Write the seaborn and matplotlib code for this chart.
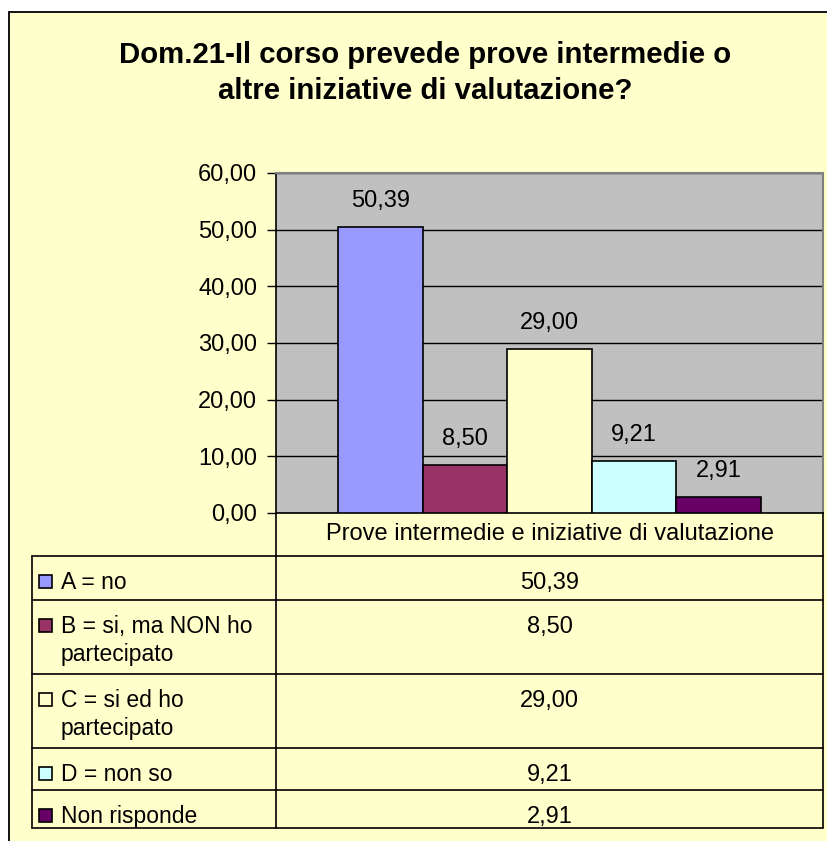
import numpy as np
import pandas as pd
import seaborn as sns
import matplotlib.pyplot as plt
from matplotlib.patches import Rectangle
from matplotlib.lines import Line2D

# dati del grafico
categoria = "Prove intermedie e iniziative di valutazione"
risposte = ["A = no", "B = si, ma NON ho partecipato", "C = si ed ho partecipato",
            "D = non so", "Non risponde"]
righe_legenda = [["A = no"], ["B = si, ma NON ho", "partecipato"],
                 ["C = si ed ho", "partecipato"], ["D = non so"], ["Non risponde"]]
valori = [50.39, 8.50, 29.00, 9.21, 2.91]
colori = ["#9999FF", "#993366", "#FFFFCC", "#CCFFFF", "#660066"]
yticks = [0, 10, 20, 30, 40, 50, 60]
titolo = ["Dom.21-Il corso prevede prove intermedie o",
          "altre iniziative di valutazione?"]

sns.set_style("white")
plt.rcParams['font.family'] = ['Liberation Sans', 'DejaVu Sans']
plt.rcParams['text.color'] = 'black'
plt.rcParams['ytick.color'] = 'black'
plt.rcParams['xtick.color'] = 'black'

FS = 17
FS_LEG = 16.5

W, H = 827, 841
fig = plt.figure(figsize=(W / 100, H / 100), dpi=100)
fig.patch.set_facecolor("white")


def fx(x):
    return x / W


def fy(y):
    return 1 - y / H


# cornice esterna
fig.patches.append(Rectangle((fx(9), fy(900)), fx(900), (900 - 12) / H,
                             transform=fig.transFigure, facecolor="#FFFFCC",
                             edgecolor="black", linewidth=1.3, zorder=-5))

# area del grafico
ax = fig.add_axes([fx(276), fy(513), fx(823) - fx(276), fy(173) - fy(513)])
ax.set_facecolor("#C0C0C0")

df = pd.DataFrame({"categoria": [categoria] * len(valori),
                   "risposta": risposte,
                   "valore": valori})
sns.barplot(data=df, x="categoria", y="valore", hue="risposta",
            palette=colori, saturation=1, width=0.773, edgecolor="black",
            linewidth=1.2, legend=False, ax=ax, zorder=3)

ax.set_xlim(-0.5, 0.5)
ax.set_ylim(0, 60)
ax.set_yticks(yticks)
ax.set_yticklabels([f"{v:.2f}".replace(".", ",") for v in yticks], fontsize=FS)
ax.set_xticks([])
ax.set_xlabel("")
ax.set_ylabel("")
ax.tick_params(axis="y", direction="out", length=6.5, width=1, color="black",
               pad=7, left=True)
ax.yaxis.grid(True, color="black", linewidth=1)
ax.set_axisbelow(True)
for s in ["top", "right"]:
    ax.spines[s].set_color("#808080")
    ax.spines[s].set_linewidth(1.5)
for s in ["left", "bottom"]:
    ax.spines[s].set_color("black")
    ax.spines[s].set_linewidth(1.2)

# etichette dei valori
for cont, v in zip(ax.containers, valori):
    for bar in cont:
        ax.annotate(f"{v:.2f}".replace(".", ","),
                    (bar.get_x() + bar.get_width() / 2, bar.get_height()),
                    xytext=(0, 14.4), textcoords="offset points",
                    ha="center", va="baseline", fontsize=FS)

# titolo
fig.text(fx(425), fy(63), titolo[0], ha="center", va="baseline",
         fontsize=21.2, fontweight="bold")
fig.text(fx(425), fy(99), titolo[1], ha="center", va="baseline",
         fontsize=21.2, fontweight="bold")

# tabella dati
row_tops = [556, 600, 674, 748, 790]
row_bottom = 828
x_left, x_mid, x_right = 32, 276, 823


def hline(y, x0, x1):
    fig.add_artist(Line2D([fx(x0), fx(x1)], [fy(y), fy(y)], color="black",
                          linewidth=1.2, transform=fig.transFigure))


def vline(x, y0, y1):
    fig.add_artist(Line2D([fx(x), fx(x)], [fy(y0), fy(y1)], color="black",
                          linewidth=1.2, transform=fig.transFigure))


vline(x_mid, 513, row_bottom)
vline(x_right, 513, row_bottom)
vline(x_left, 556, row_bottom)
for y in row_tops + [row_bottom]:
    hline(y, x_left, x_right)

fig.text(fx((x_mid + x_right) / 2), fy(540), categoria, ha="center",
         va="baseline", fontsize=FS)

for top, righe, v, c in zip(row_tops, righe_legenda, valori, colori):
    fig.patches.append(Rectangle((fx(39), fy(top + 32)), fx(13), 13 / H,
                                 transform=fig.transFigure, facecolor=c,
                                 edgecolor="black", linewidth=1.2, zorder=3))
    fig.text(fx(61), fy(top + 33), righe[0], ha="left", va="baseline",
             fontsize=FS_LEG)
    if len(righe) > 1:
        fig.text(fx(61), fy(top + 61), righe[1], ha="left", va="baseline",
                 fontsize=FS_LEG)
    fig.text(fx((x_mid + x_right) / 2), fy(top + 33),
             f"{v:.2f}".replace(".", ","), ha="center", va="baseline",
             fontsize=FS)

fig.savefig("out.png", dpi=100)
